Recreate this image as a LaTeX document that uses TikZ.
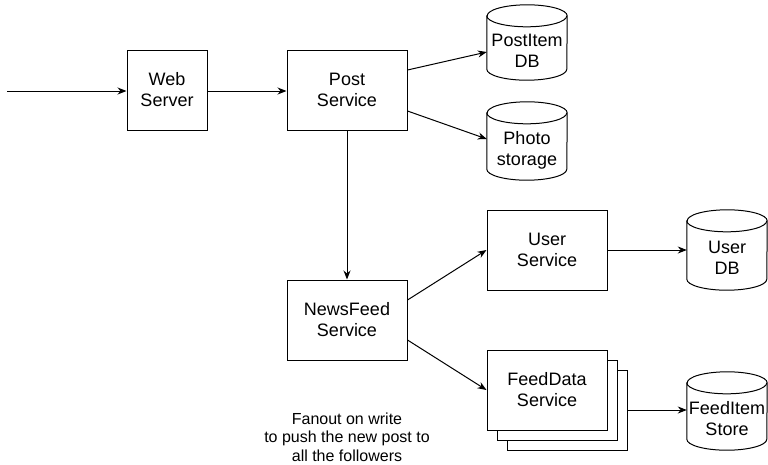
\documentclass[tikz,border=0pt]{standalone}
\usepackage{fontspec}
\setmainfont{Liberation Sans}
\usetikzlibrary{arrows.meta,calc}
\tikzset{
  box/.style={draw, line width=1pt, fill=white, minimum width=120pt, minimum height=80pt, inner sep=0pt, align=center, font=\fontsize{18}{21}\selectfont},
  cylnode/.style={minimum width=80pt, inner sep=0pt},
  cyltext/.style={align=center, font=\fontsize{18}{21}\selectfont},
  conn/.style={line width=1pt, -{Stealth[length=9pt,width=7pt]}},
  cylline/.style={line width=1pt, fill=white},
  caption/.style={align=center, font=\fontsize{16}{18.3}\selectfont}
}
\newcommand{\mycyl}[6]{%
  % #1 name, #2 cx, #3 top, #4 bottom, #5 text, #6 text offset
  \node[cylnode, minimum height={(#4-#3)*1pt}] (#1) at (#2,{(#3+#4)/2}) {};
  \draw[cylline] ($(#1.north west)+(0,-11pt)$) -- ($(#1.south west)+(0,11pt)$)
     arc[start angle=180, end angle=360, x radius=40pt, y radius=11pt]
     -- ($(#1.north east)+(0,-11pt)$)
     arc[start angle=0, end angle=180, x radius=40pt, y radius=11pt] -- cycle;
  \draw[line width=1pt] ($(#1.north west)+(0,-11pt)$)
     arc[start angle=180, end angle=360, x radius=40pt, y radius=11pt];
  \node[cyltext] (#1-t) at ($(#1.center)+(0,-#6pt)$) {#5};
}
\begin{document}
\begin{tikzpicture}[x=1pt,y=-1pt]
\useasboundingbox (0,0) rectangle (768,464);
\coordinate (in) at (7,91);
\node[box, minimum width=80pt] (web) at (167,90) {Web\\Server};
\node[box] (post) at (347,90) {Post\\Service};
\node[box] (news) at (347,320) {NewsFeed\\Service};
\node[box] (user) at (547,250) {User\\Service};
\node[box] (fd3) at (567,410) {};
\node[box] (fd2) at (557,400) {};
\node[box] (fd1) at (547,390) {FeedData\\Service};
\mycyl{pidb}{527}{5}{80}{PostItem\\DB}{8}
\mycyl{photo}{527}{102}{180}{Photo\\storage}{9}
\mycyl{udb}{727}{210}{290}{User\\DB}{8}
\mycyl{fis}{727}{372}{450}{FeedItem\\Store}{8}
\node[caption] (cap) at (347,437) {Fanout on write\\to push the new post to\\all the followers};

\draw[conn] (in) -- (web.west|-in);
\draw[conn] (web.east|-in) -- (post.west|-in);
\draw[conn] ($(post.east)+(0,20pt)$) -- ($(pidb.west)+(0,-9.5pt)$);
\draw[conn] ($(post.east)+(0,-21pt)$) -- ($(photo.west)+(0,2pt)$);
\draw[conn] (post.south) -- (news.north);
\draw[conn] ($(news.east)+(0,20pt)$) -- (user.west);
\draw[conn] ($(news.east)+(0,-20pt)$) -- (fd1.west);
\draw[conn] (user.east) -- (udb.west);
\draw[conn] (fd3.east) -- (fis.west|-fd3.east);
\end{tikzpicture}
\end{document}
